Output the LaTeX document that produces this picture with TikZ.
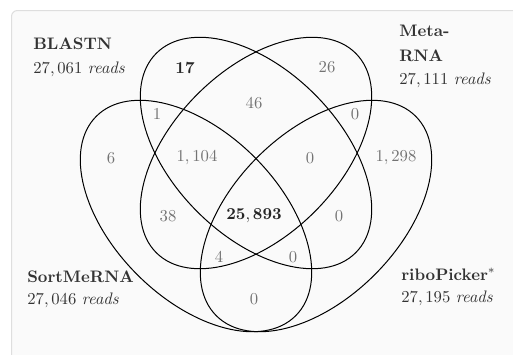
\documentclass[tikz,border=0pt]{standalone}
\begin{document}
\begin{tikzpicture}[x=0.6pt,y=-0.6pt,
  setline/.style={draw=black,line width=0.6pt},
  lbl/.style={anchor=base west,inner sep=0pt,text=black!80,font=\bfseries},
  cnt/.style={anchor=base west,inner sep=0pt,text=black!80},
  num/.style={inner sep=0pt,text=black!55},
  bnum/.style={inner sep=0pt,text=black!85}]
\useasboundingbox (0,0) rectangle (513,354);
\clip (0,0) rectangle (513,354);
\draw[draw=black!13,fill=black!2,line width=0.6pt,rounded corners=3.6pt] (11.5,10.5) rectangle (530,370);
% ellipses
\draw[setline,shift={(256,153)},rotate=-45] (0,0) ellipse[x radius=84.6pt,y radius=49.8pt];
\draw[setline,shift={(256,153)},rotate=45] (0,0) ellipse[x radius=84.6pt,y radius=49.8pt];
\draw[setline,shift={(196,216)},rotate=-45] (0,0) ellipse[x radius=84.6pt,y radius=49.8pt];
\draw[setline,shift={(316,216)},rotate=45] (0,0) ellipse[x radius=84.6pt,y radius=49.8pt];
% labels
\node[lbl] (blastn) at (33,49.3) {BLASTN};
\node[cnt] (blastnr) at (33,73) {$27,061\ \mathit{reads}$};
\node[lbl] (meta1) at (399,36.7) {Meta-};
\node[lbl] (meta2) at (399,61) {RNA};
\node[cnt] (metar) at (399,84.5) {$27,111\ \mathit{reads}$};
\node[lbl] (sort) at (27,282) {SortMeRNA};
\node[cnt] (sortr) at (27,304) {$27,046\ \mathit{reads}$};
\node[lbl] (ribo) at (401,280) {riboPicker$^{*}$};
\node[cnt] (ribor) at (401,302.5) {$27,195\ \mathit{reads}$};
% counts
\node[bnum] (n17) at (185,68) {$\mathbf{17}$};
\node[num] (n26) at (327,67) {$26$};
\node[num] (n46) at (254,103) {$46$};
\node[num] (n1) at (157,114) {$1$};
\node[num] (n0a) at (355,114) {$0$};
\node[num] (n6) at (111,158) {$6$};
\node[num] (n1104) at (197,158) {$1,104$};
\node[num] (n0b) at (310,158) {$0$};
\node[num] (n1298) at (396,158) {$1,298$};
\node[num] (n38) at (168,216) {$38$};
\node[bnum] (ncore) at (254,216) {$\mathbf{25,893}$};
\node[num] (n0c) at (339,216) {$0$};
\node[num] (n4) at (219,257) {$4$};
\node[num] (n0d) at (293,257) {$0$};
\node[num] (n0e) at (254,299) {$0$};
\end{tikzpicture}
\end{document}
